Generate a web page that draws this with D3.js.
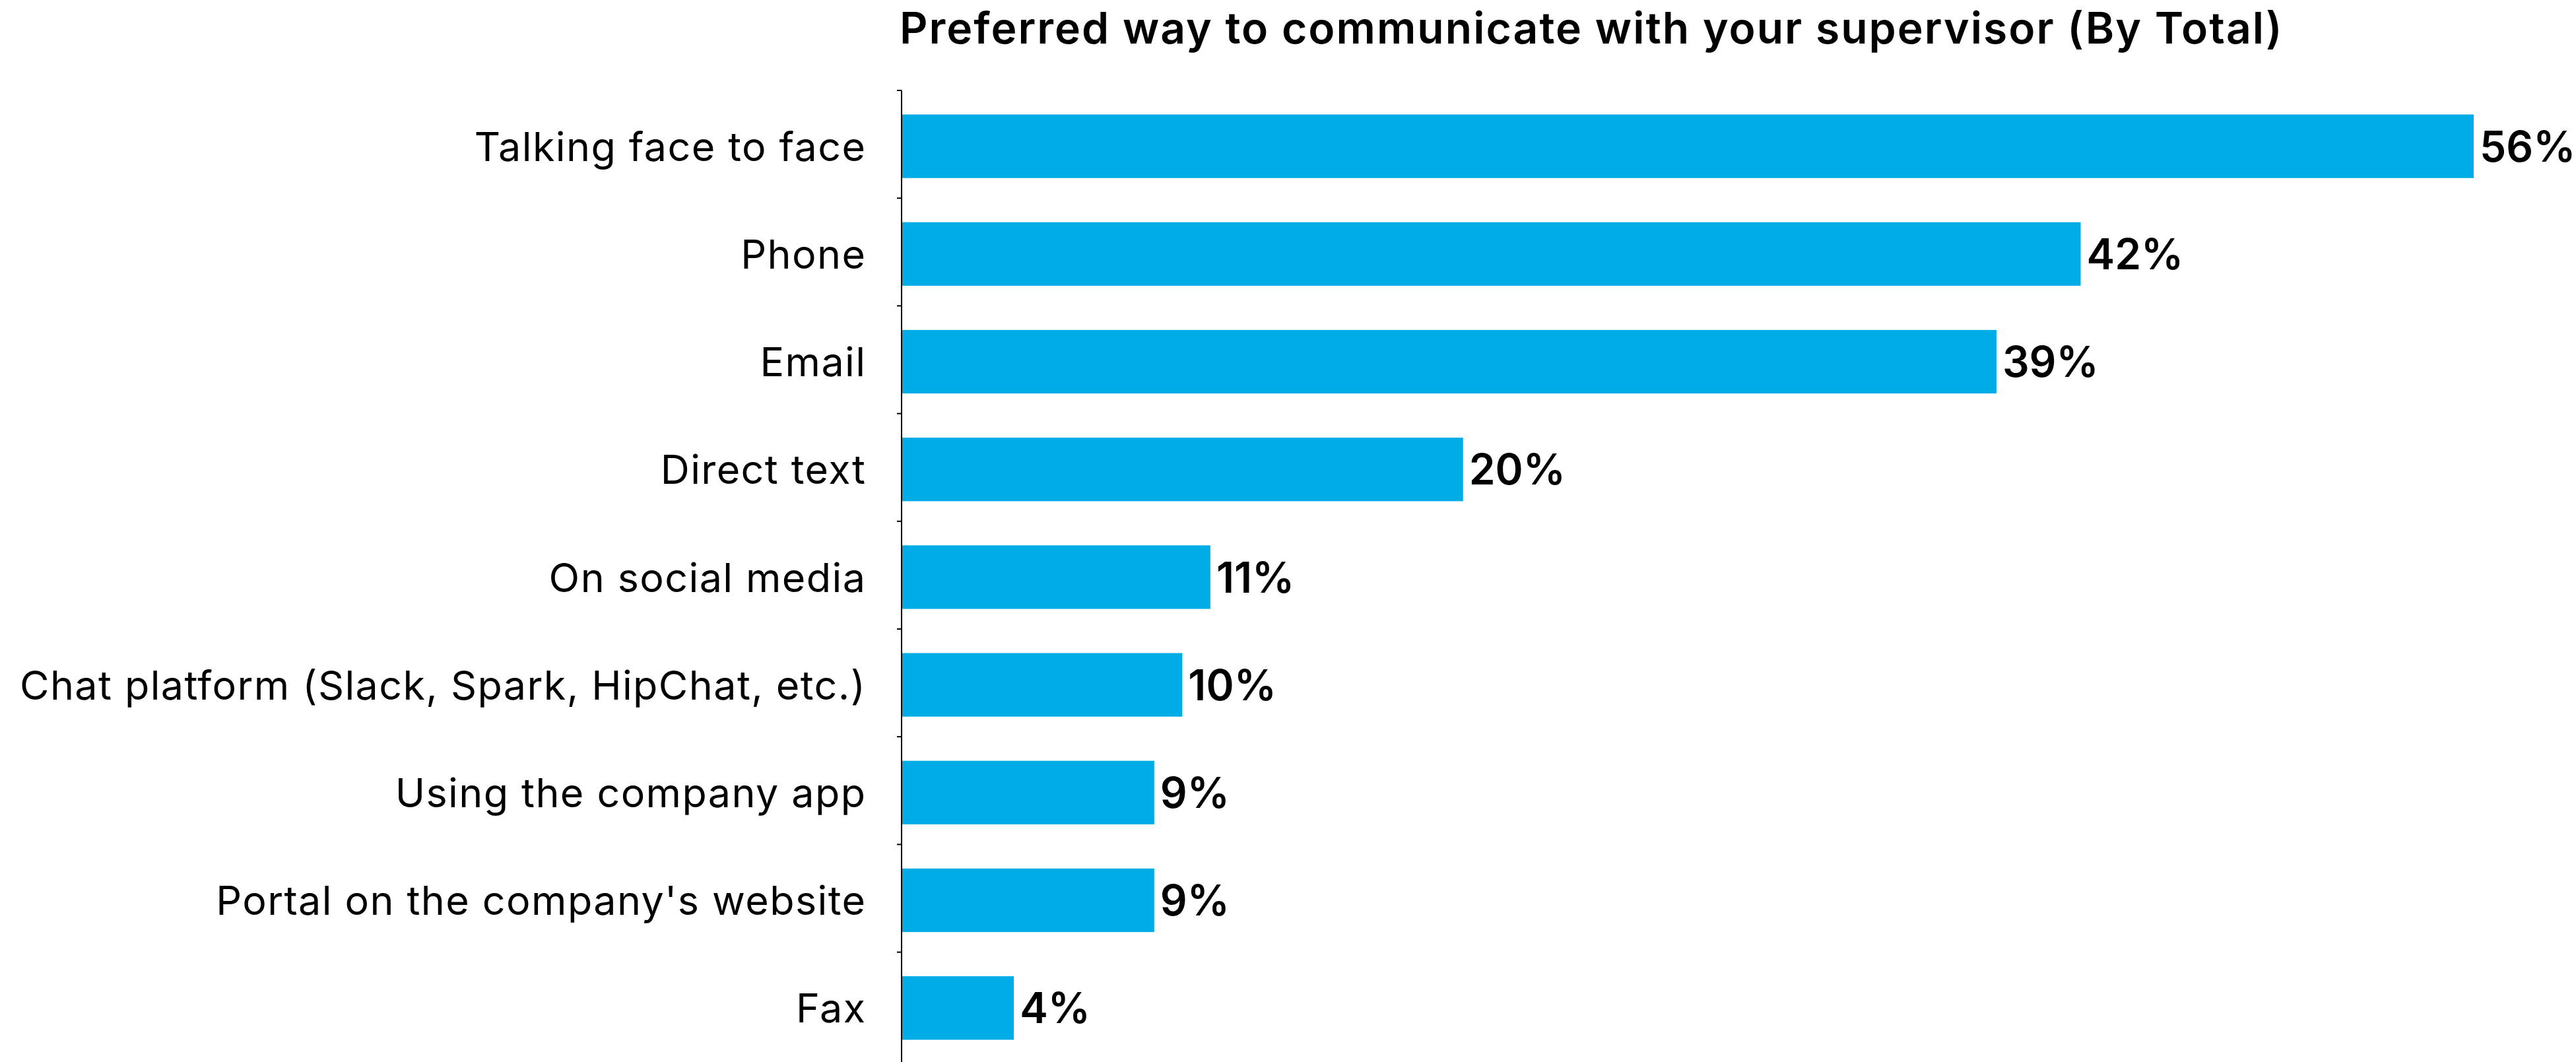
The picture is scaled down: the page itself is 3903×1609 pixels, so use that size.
<!DOCTYPE html>
<html>
<head>
<meta charset="utf-8">
<script src="https://cdn.jsdelivr.net/npm/d3@7"></script>
<style>
  html, body { margin: 0; padding: 0; background: #ffffff; }
  svg { display: block; }
  .cat { font-family: Inter, Lato, sans-serif; font-weight: 400; fill: #000; }
  .val { font-family: Inter, Lato, sans-serif; font-weight: 600; fill: #000; }
  .title { font-family: Inter, Lato, sans-serif; font-weight: 600; fill: #000; }
</style>
</head>
<body>
<script>
// Survey responses, share of respondents (%)
const categories = [
  "Talking face to face",
  "Phone",
  "Email",
  "Direct text",
  "On social media",
  "Chat platform (Slack, Spark, HipChat, etc.)",
  "Using the company app",
  "Portal on the company's website",
  "Fax"
];
const values = [56, 42, 39, 20, 11, 10, 9, 9, 4];
const titleText = "Preferred way to communicate with your supervisor (By Total)";

const W = 3903, H = 1609;
const axisX = 1366;
const capRatio = 0.727;   // Inter cap height / em

const svg = d3.select("body").append("svg")
  .attr("width", W).attr("height", H);

const x = d3.scaleLinear().domain([0, 56]).range([axisX, 3748]);
const step = 163.2;
const y = d3.scaleBand().domain(categories)
  .range([140, 140 + 9 * step])
  .paddingInner(0.41).paddingOuter(0.205);

const gap = y.step() * y.paddingInner();
const tickY = d => y(d) - gap / 2 - 3;

// bars
svg.append("g").selectAll("rect")
  .data(categories)
  .join("rect")
  .attr("x", axisX)
  .attr("y", d => y(d))
  .attr("width", (d, i) => x(values[i]) - axisX)
  .attr("height", y.bandwidth())
  .attr("fill", "#00ACE6");

// vertical axis with ticks between categories
const axisG = svg.append("g");
axisG.append("line")
  .attr("x1", axisX).attr("x2", axisX)
  .attr("y1", tickY(categories[0])).attr("y2", H)
  .attr("stroke", "#000").attr("stroke-width", 2);
axisG.selectAll(".tick")
  .data(categories)
  .join("line")
  .attr("class", "tick")
  .attr("x1", axisX - 7).attr("x2", axisX)
  .attr("y1", tickY)
  .attr("y2", tickY)
  .attr("stroke", "#000").attr("stroke-width", 2);

// category labels (trailing letter-spacing compensated at the anchor)
const catSize = 61, catSpacing = 1.4;
svg.append("g").selectAll("text")
  .data(categories)
  .join("text")
  .attr("class", "cat")
  .attr("x", axisX - 55 + catSpacing)
  .attr("y", d => y(d) + y.bandwidth() / 2 + catSize * capRatio / 2)
  .attr("text-anchor", "end")
  .attr("font-size", catSize)
  .attr("letter-spacing", catSpacing)
  .text(d => d);

// value labels
const valSize = 64;
svg.append("g").selectAll("text")
  .data(categories)
  .join("text")
  .attr("class", "val")
  .attr("x", (d, i) => x(values[i]) + 9)
  .attr("y", d => y(d) + y.bandwidth() / 2 + valSize * capRatio / 2)
  .attr("font-size", valSize)
  .text((d, i) => values[i] + "%");

// title
svg.append("text")
  .attr("class", "title")
  .attr("x", 1363)
  .attr("y", 66)
  .attr("font-size", 66)
  .attr("letter-spacing", 2)
  .text(titleText);
</script>
</body>
</html>
